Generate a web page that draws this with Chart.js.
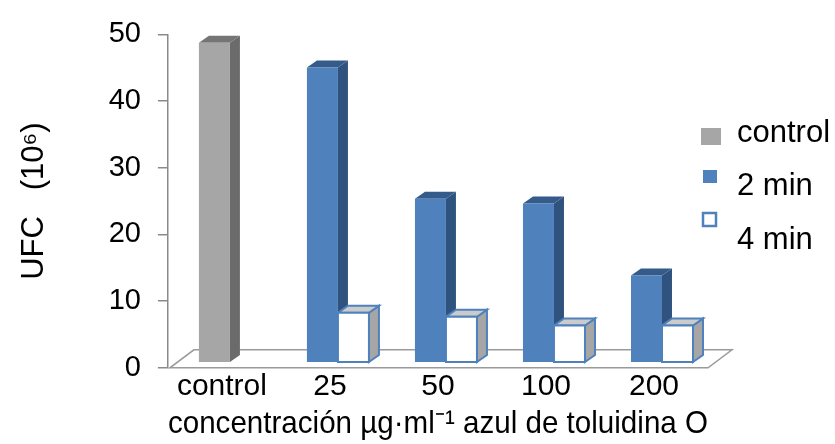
<!DOCTYPE html>
<html lang="es">
<head>
<meta charset="utf-8">
<title>UFC frente a concentración de azul de toluidina O</title>
<script src="https://cdn.jsdelivr.net/npm/chart.js@4/dist/chart.umd.min.js"></script>
<style>
  html, body { margin: 0; padding: 0; background: #ffffff; }
  #wrap { width: 835px; height: 444px; }
</style>
</head>
<body>
<div id="wrap"><canvas id="chart" width="835" height="444"></canvas></div>
<script>
// Concentrations of toluidine blue O (µg·ml⁻¹) plus the untreated control
const categories = ['control', '25', '50', '100', '200'];

// Colony counts, UFC ×10⁶
const controlValues = [48.0, null, null, null, null];
const min2Values    = [null, 44.3, 24.6, 23.9, 13.1];
const min4Values    = [null, 7.5, 6.9, 5.6, 5.6];

const yTicks = [0, 10, 20, 30, 40, 50];

const seriesLabels = ['control', '2 min', '4 min'];

const FONT = "'Liberation Sans', Arial, sans-serif";
Chart.defaults.font.family = FONT;
Chart.defaults.color = '#000000';

// Face colours of each prism: front, side, top, outline
const faceStyles = [
  { front: '#a6a6a6', side: '#6b6b6b', top: '#757575', stroke: null },
  { front: '#4f81bd', side: '#30527e', top: '#355b8b', stroke: null },
  { front: '#ffffff', side: '#a6a6a6', top: '#cbcbcb', stroke: '#4f81bd' }
];

// Draws the floor and every bar as a prism, using the bar elements laid out by Chart.js
const prism3d = {
  id: 'prism3d',
  beforeDatasetsDraw(chart, args, o) {
    const { ctx, chartArea } = chart;
    const y0 = chart.scales.y.getPixelForValue(0);
    const l = chartArea.left + 2, r = chartArea.right;
    ctx.save();
    ctx.strokeStyle = o.floorColor;
    ctx.lineWidth = 1.5;
    ctx.beginPath();
    ctx.moveTo(l, y0);
    ctx.lineTo(r, y0);
    ctx.lineTo(r + o.floorDx, y0 - o.floorDy);
    ctx.lineTo(l + o.floorDx, y0 - o.floorDy);
    ctx.closePath();
    ctx.stroke();
    ctx.restore();
  },
  beforeDatasetDraw() {
    return false;
  },
  afterDatasetsDraw(chart, args, o) {
    const { ctx } = chart;
    const n = chart.data.labels.length;
    ctx.save();
    for (let i = 0; i < n; i++) {
      chart.data.datasets.forEach((ds, d) => {
        const v = ds.data[i];
        if (v === null || v === undefined) return;
        const el = chart.getDatasetMeta(d).data[i];
        const { x, y, base, width } = el.getProps(['x', 'y', 'base', 'width'], true);
        const st = faceStyles[d];
        const L = x - width / 2 + o.shiftX, R = x + width / 2 + o.shiftX;
        const T = y - o.shiftY, B = base - o.shiftY;
        const dx = o.depthX, dy = o.depthY;
        const poly = (pts, fill) => {
          ctx.beginPath();
          ctx.moveTo(pts[0][0], pts[0][1]);
          for (let k = 1; k < pts.length; k++) ctx.lineTo(pts[k][0], pts[k][1]);
          ctx.closePath();
          ctx.fillStyle = fill;
          ctx.fill();
          if (st.stroke) {
            ctx.strokeStyle = st.stroke;
            ctx.lineWidth = 2;
            ctx.stroke();
          }
        };
        poly([[R, B], [R + dx, B - dy], [R + dx, T - dy], [R, T]], st.side);
        poly([[L, T], [R, T], [R + dx, T - dy], [L + dx, T - dy]], st.top);
        poly([[L, T], [R, T], [R, B], [L, B]], st.front);
      });
    }
    ctx.restore();
  }
};

// Legend on the right-hand side
const sideLegend = {
  id: 'sideLegend',
  afterDraw(chart, args, o) {
    const { ctx } = chart;
    ctx.save();
    ctx.font = `${o.fontSize}px ${FONT}`;
    ctx.textBaseline = 'middle';
    ctx.textAlign = 'left';
    chart.data.datasets.forEach((ds, d) => {
      const st = faceStyles[d];
      const m = o.markers[d];
      const my = o.markerTop + d * o.markerStep;
      ctx.fillStyle = st.front;
      ctx.fillRect(o.markerX + m.ox, my, m.w, m.h);
      if (st.stroke) {
        ctx.strokeStyle = st.stroke;
        ctx.lineWidth = 2.5;
        ctx.strokeRect(o.markerX + m.ox + 1, my + 1, m.w - 2, m.h - 2);
      }
      ctx.fillStyle = '#000000';
      ctx.fillText(ds.label, o.textX, o.textTop + d * o.textStep);
    });
    ctx.restore();
  }
};

new Chart(document.getElementById('chart'), {
  type: 'bar',
  data: {
    labels: categories,
    datasets: [
      { label: seriesLabels[0], data: controlValues, stack: 'a', backgroundColor: faceStyles[0].front },
      { label: seriesLabels[1], data: min2Values, stack: 'a', backgroundColor: faceStyles[1].front },
      { label: seriesLabels[2], data: min4Values, stack: 'b', backgroundColor: faceStyles[2].front }
    ]
  },
  plugins: [prism3d, sideLegend],
  options: {
    responsive: false,
    animation: false,
    devicePixelRatio: 1,
    layout: { padding: { top: 30, right: 127, bottom: 0, left: 0 } },
    datasets: { bar: { categoryPercentage: 0.574, barPercentage: 1 } },
    plugins: {
      legend: { display: false },
      tooltip: { enabled: false },
      prism3d: {
        floorColor: '#9a9a9a', floorDx: 24, floorDy: 18,
        shiftX: 8, shiftY: 5, depthX: 10, depthY: 7
      },
      sideLegend: {
        fontSize: 31,
        markerX: 701, markerTop: 128, markerStep: 42,
        markers: [{ ox: 0, w: 20, h: 17 }, { ox: 2, w: 14, h: 13 }, { ox: 1, w: 15, h: 15 }],
        textX: 737, textTop: 133, textStep: 53.5
      }
    },
    scales: {
      x: {
        stacked: true,
        grid: { display: false, drawTicks: false },
        border: { display: false },
        ticks: { font: { size: 30 }, color: '#000000', padding: 1, maxRotation: 0, autoSkip: false },
        title: {
          display: true,
          text: 'concentración µg·ml\u207B\u00B9 azul de toluidina O',
          font: { size: 32, lineHeight: 1.1 }, color: '#000000',
          padding: { top: 1, bottom: 2 }
        }
      },
      y: {
        stacked: true,
        min: 0,
        max: 50,
        afterBuildTicks(scale) { scale.ticks = yTicks.map(v => ({ value: v })); },
        ticks: { font: { size: 29 }, color: '#000000', padding: 17 },
        grid: { drawOnChartArea: false, tickLength: 10, color: '#8a8a8a', lineWidth: 1.5 },
        border: { color: '#8a8a8a', width: 1.5 },
        title: {
          display: true,
          text: 'UFC   (10\u2076)',
          font: { size: 31, lineHeight: 1.15 }, color: '#000000',
          padding: { top: 17, bottom: 39 }
        }
      }
    }
  }
});
</script>
</body>
</html>
